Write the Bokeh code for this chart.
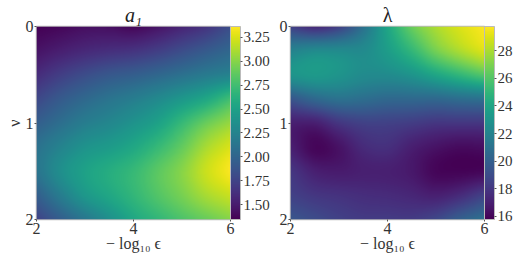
import numpy as np
from bokeh.embed import file_html
from bokeh.resources import INLINE
from bokeh.plotting import figure
from bokeh.layouts import row
from bokeh.models import LinearColorMapper, ColorBar, FixedTicker, PrintfTickFormatter
from bokeh.palettes import Viridis256

titles = ["a₁", "λ"]
x_label = "− log₁₀ ϵ"
y_label = "ν"
x_ticks = [2, 4, 6]
y_ticks = [0, 1, 2]
a1_ticks = [1.5, 1.75, 2.0, 2.25, 2.5, 2.75, 3.0, 3.25]
lam_ticks = [16, 18, 20, 22, 24, 26, 28]
a1_range = (1.343, 3.365)
lam_range = (15.78, 29.74)

# rows: nu = 0 .. 2 by 0.25, columns: -log10 eps = 2 .. 6 by 0.5
a1 = [
    [1.35, 1.38, 1.42, 1.42, 1.38, 1.45, 1.55, 1.65, 1.82],
    [1.45, 1.52, 1.58, 1.62, 1.65, 1.72, 1.82, 1.92, 2.02],
    [1.60, 1.72, 1.82, 1.90, 1.95, 2.02, 2.10, 2.18, 2.25],
    [1.78, 1.92, 2.03, 2.12, 2.20, 2.30, 2.42, 2.55, 2.75],
    [1.95, 2.08, 2.20, 2.28, 2.38, 2.50, 2.70, 2.90, 3.05],
    [2.10, 2.25, 2.38, 2.45, 2.55, 2.70, 2.88, 3.10, 3.25],
    [2.12, 2.35, 2.50, 2.60, 2.70, 2.85, 3.00, 3.20, 3.35],
    [1.95, 2.20, 2.42, 2.55, 2.68, 2.82, 2.95, 3.10, 3.20],
    [1.75, 1.95, 2.15, 2.35, 2.55, 2.68, 2.80, 2.90, 3.00],
]
lam = [
    [18.5, 17.5, 18.5, 21.0, 24.0, 26.5, 28.0, 29.0, 29.7],
    [22.0, 22.5, 22.5, 22.5, 23.5, 25.0, 26.8, 28.0, 29.0],
    [23.0, 23.3, 23.0, 22.5, 22.5, 23.0, 24.0, 25.0, 26.0],
    [19.5, 20.5, 21.0, 20.8, 20.5, 20.5, 20.5, 20.8, 21.0],
    [17.0, 17.0, 18.0, 18.5, 18.5, 18.3, 18.0, 18.0, 18.0],
    [17.0, 16.0, 16.5, 17.5, 17.7, 17.0, 16.5, 16.2, 16.3],
    [18.0, 17.0, 16.8, 17.0, 17.0, 16.7, 16.0, 15.9, 16.0],
    [18.5, 18.0, 17.8, 17.6, 17.5, 17.3, 17.0, 17.5, 18.5],
    [19.5, 19.0, 18.5, 18.2, 18.2, 18.2, 18.8, 20.0, 21.0],
]

FONT = "Liberation Serif"
GRAY = "#bbbbbb"


def shade(table, w=194, h=193):
    """Bicubic display resampling, as the original heat map's shading does."""
    def axis_resample(m, n):
        k = m.shape[1]
        t = np.linspace(0, k - 1, n)
        i = np.clip(np.floor(t).astype(int), 0, k - 2)
        f = t - i
        pad = np.concatenate([2 * m[:, :1] - m[:, 1:2], m, 2 * m[:, -1:] - m[:, -2:-1]], axis=1)
        p0, p1, p2, p3 = pad[:, i], pad[:, i + 1], pad[:, i + 2], pad[:, i + 3]
        return 0.5 * (2 * p1 + (p2 - p0) * f + (2 * p0 - 5 * p1 + 4 * p2 - p3) * f ** 2
                      + (3 * p1 - p0 - 3 * p2 + p3) * f ** 3)
    m = np.array(table, dtype=float)
    m = axis_resample(m, w)
    return axis_resample(m.T, h).T


def panel(data, title, style, rng, cticks, fmt, show_ylabel, left, right):
    p = figure(
        frame_width=194, frame_height=193, x_range=(2, 6), y_range=(2, 0),
        output_backend="svg", toolbar_location=None,
        min_border_left=left, min_border_right=right, min_border_top=19,
        min_border_bottom=35, title=title,
    )
    mapper = LinearColorMapper(palette=Viridis256, low=rng[0], high=rng[1])
    p.image(image=[shade(data)], x=2, y=0, dw=4, dh=2, color_mapper=mapper)
    p.grid.visible = False
    p.outline_line_color = GRAY
    p.outline_line_width = 1.5
    p.title.align = "center"
    p.title.text_font = FONT
    p.title.text_font_size = "20px"
    p.title.text_font_style = style
    p.title.text_color = "#222222"
    p.title.standoff = 2
    for ax, ticks in ((p.xaxis[0], x_ticks), (p.yaxis[0], y_ticks)):
        ax.ticker = FixedTicker(ticks=ticks)
        ax.major_label_text_font = FONT
        ax.major_label_text_font_size = "16px"
        ax.major_label_text_color = "#333333"
        ax.axis_line_color = None
        ax.major_tick_line_color = "#555555"
        ax.major_tick_out = 2
        ax.major_tick_in = 0
        ax.minor_tick_line_color = None
        ax.major_label_standoff = 1
        ax.axis_label_text_font = FONT
        ax.axis_label_text_font_size = "16px"
        ax.axis_label_text_font_style = "normal"
        ax.axis_label_text_color = "#333333"
        ax.axis_label_standoff = 0
    p.xaxis[0].axis_label = x_label
    p.xaxis[0].axis_label_standoff = -2
    if show_ylabel:
        p.yaxis[0].axis_label = y_label
    cb = ColorBar(
        color_mapper=mapper, ticker=FixedTicker(ticks=cticks), width=10,
        padding=0, margin=2, major_label_text_font=FONT,
        formatter=PrintfTickFormatter(format=fmt),
        major_label_text_font_size="15px", major_label_text_color="#333333",
        major_tick_line_color="#555555", major_tick_in=0, major_tick_out=2,
        minor_tick_line_color=None, label_standoff=1,
        bar_line_color=GRAY, bar_line_width=1, border_line_color=None,
        background_fill_color=None,
    )
    p.add_layout(cb, "right")
    return p


p1 = panel(a1, titles[0], "italic", a1_range, a1_ticks, "%.2f", True, 30, 34)
p2 = panel(lam, titles[1], "normal", lam_range, lam_ticks, "%d", False, 19, 30)
p1.margin = (0, 0, 0, 2)
p2.margin = (0, 0, 0, -1)
page = row(p1, p2, spacing=0)
open("out.html", "w").write(file_html(page, INLINE))
